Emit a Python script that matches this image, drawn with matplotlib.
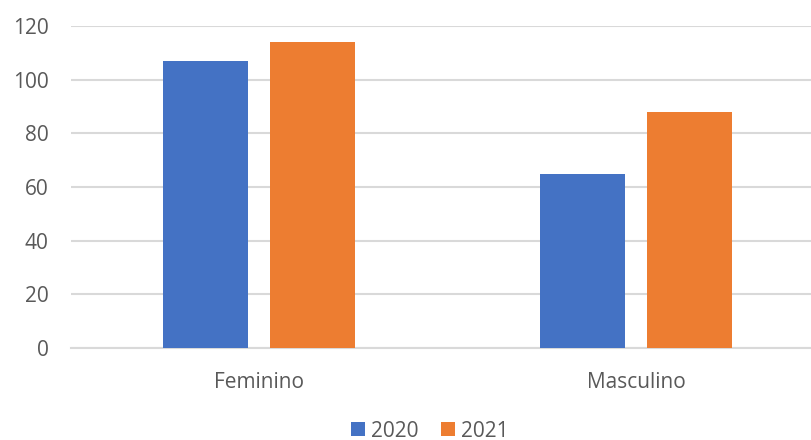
import matplotlib.pyplot as plt
import numpy as np

plt.rcParams['font.family'] = ['Open Sans', 'DejaVu Sans']

categories = ['Feminino', 'Masculino']
series_names = ['2020', '2021']
values_2020 = [107, 65]
values_2021 = [114, 88]
colors = ['#4472C4', '#ED7D31']

fig = plt.figure(figsize=(8.11, 4.40), dpi=100)
ax = fig.add_axes([71 / 811, 1 - 348 / 440, 740 / 811, (348 - 26) / 440])

x = np.arange(len(categories))
w = 0.226
off = 0.142
ax.bar(x - off, values_2020, width=w, color=colors[0], label=series_names[0], zorder=3)
ax.bar(x + off, values_2021, width=w, color=colors[1], label=series_names[1], zorder=3)

ax.set_xlim(-0.5, 1.465)
ax.set_ylim(0, 120)
ax.set_yticks(range(0, 121, 20))
ax.set_xticks(x)
ax.set_xticklabels(categories)
ax.yaxis.grid(True, color='#d9d9d9', linewidth=1.5, zorder=0)
ax.set_axisbelow(True)
for s in ['top', 'right', 'left']:
    ax.spines[s].set_visible(False)
ax.spines['bottom'].set_color('#d9d9d9')
ax.spines['bottom'].set_linewidth(1.5)
ax.tick_params(axis='both', length=0, labelsize=15, labelcolor='#595959')
ax.tick_params(axis='x', pad=17)
ax.tick_params(axis='y', pad=16)

fig.legend(loc='center', bbox_to_anchor=(430 / 811, 1 - 431 / 440), ncol=2, frameon=False,
           fontsize=15, labelcolor='#595959', handlelength=0.65, handleheight=0.65,
           handletextpad=0.3, columnspacing=1.1)

fig.savefig('out.png', dpi=100)
